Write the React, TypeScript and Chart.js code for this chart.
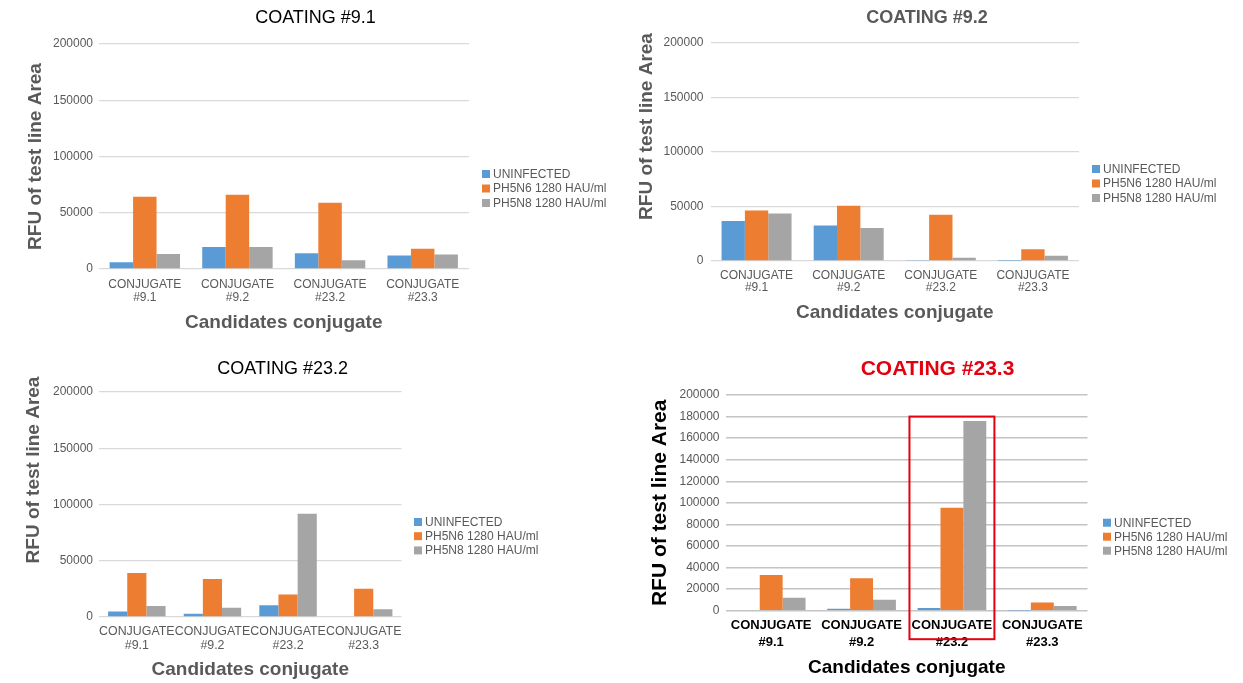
import React, { useEffect, useRef } from 'react';
import { Chart, registerables } from 'chart.js';

Chart.register(...registerables);

const FONT = "'Liberation Sans', Arial, Helvetica, sans-serif";

// ---------- data ----------
const categories: string[][] = [
  ['CONJUGATE', '#9.1'],
  ['CONJUGATE', '#9.2'],
  ['CONJUGATE', '#23.2'],
  ['CONJUGATE', '#23.3'],
];
const seriesLabels = ['UNINFECTED', 'PH5N6 1280 HAU/ml', 'PH5N8 1280 HAU/ml'];
const seriesColors = ['#5B9BD5', '#ED7D31', '#A5A5A5'];

const yTitleText = 'RFU of test line Area';
const xTitleText = 'Candidates conjugate';

const yTicksCoarse = [0, 50000, 100000, 150000, 200000];
const yTicksFine = [0, 20000, 40000, 60000, 80000, 100000, 120000, 140000, 160000, 180000, 200000];

const coating91Uninfected = [5900, 19600, 14000, 12100];
const coating91H5N6 = [64300, 66000, 58800, 17900];
const coating91H5N8 = [13400, 19600, 7700, 12800];

const coating92Uninfected = [36600, 32600, 1000, 300];
const coating92H5N6 = [46300, 50600, 42400, 10700];
const coating92H5N8 = [43600, 30200, 3000, 4900];

const coating232Uninfected = [5000, 3000, 10400, 0];
const coating232H5N6 = [39200, 33800, 19900, 25200];
const coating232H5N8 = [9800, 8300, 91700, 6800];

const coating233Uninfected = [600, 1800, 2500, 300];
const coating233H5N6 = [33100, 30000, 95500, 7700];
const coating233H5N8 = [12000, 10200, 175900, 4300];

const highlightedCategory = 2;
const highlightTopValue = 180000;

// ---------- layout / style specs ----------
type Spec = {
  key: string;
  title: string;
  titleFont: string;
  titleColor: string;
  titleX: number;
  titleY: number;
  series: number[][];
  yTicks: number[];
  left: number;
  top: number;
  width: number;
  height: number;
  area: { left: number; right: number; top: number; bottom: number };
  yTickPad: number;
  yTitleX: number;
  yTitleDy: number;
  yTitleFont: string;
  axisTitleColor: string;
  xTitleSize: number;
  xTitlePadBottom: number;
  xTickSize: number;
  xTickWeight: string;
  xTickColor: string;
  xTickLineHeight: number;
  xTickPad: number;
  gridColor: string;
  gridWidth: number;
  legendX: number;
  legendY: number;
  legendRow: number;
  highlight: boolean;
};

const specs: Spec[] = [
  {
    key: 'c91',
    title: 'COATING #9.1',
    titleFont: `18px ${FONT}`,
    titleColor: '#000000',
    titleX: 315.5,
    titleY: 18,
    series: [coating91Uninfected, coating91H5N6, coating91H5N8],
    yTicks: yTicksCoarse,
    left: 0, top: 0, width: 620, height: 340,
    area: { left: 98.5, right: 469, top: 44, bottom: 269 },
    yTickPad: 5.5,
    yTitleX: 35.5,
    yTitleDy: 0,
    yTitleFont: `bold 19px ${FONT}`,
    axisTitleColor: '#595959',
    xTitleSize: 19,
    xTitlePadBottom: 5.6,
    xTickSize: 12,
    xTickWeight: 'normal',
    xTickColor: '#595959',
    xTickLineHeight: 1.08,
    xTickPad: 9,
    gridColor: '#D9D9D9',
    gridWidth: 1.3,
    legendX: 482,
    legendY: 174,
    legendRow: 14.5,
    highlight: false,
  },
  {
    key: 'c92',
    title: 'COATING #9.2',
    titleFont: `bold 18px ${FONT}`,
    titleColor: '#595959',
    titleX: 307,
    titleY: 18,
    series: [coating92Uninfected, coating92H5N6, coating92H5N8],
    yTicks: yTicksCoarse,
    left: 620, top: 0, width: 623, height: 340,
    area: { left: 90.5, right: 459, top: 43, bottom: 261 },
    yTickPad: 7,
    yTitleX: 27,
    yTitleDy: -25.5,
    yTitleFont: `bold 19px ${FONT}`,
    axisTitleColor: '#595959',
    xTitleSize: 19,
    xTitlePadBottom: 15.6,
    xTickSize: 12,
    xTickWeight: 'normal',
    xTickColor: '#595959',
    xTickLineHeight: 1.05,
    xTickPad: 8,
    gridColor: '#D9D9D9',
    gridWidth: 1.3,
    legendX: 472,
    legendY: 169,
    legendRow: 14.5,
    highlight: false,
  },
  {
    key: 'c232',
    title: 'COATING #23.2',
    titleFont: `18px ${FONT}`,
    titleColor: '#000000',
    titleX: 282.7,
    titleY: 29,
    series: [coating232Uninfected, coating232H5N6, coating232H5N8],
    yTicks: yTicksCoarse,
    left: 0, top: 340, width: 620, height: 343,
    area: { left: 99, right: 401.5, top: 52, bottom: 277 },
    yTickPad: 6,
    yTitleX: 33.5,
    yTitleDy: -34.5,
    yTitleFont: `bold 19px ${FONT}`,
    axisTitleColor: '#595959',
    xTitleSize: 19,
    xTitlePadBottom: 1.6,
    xTickSize: 12.4,
    xTickWeight: 'normal',
    xTickColor: '#595959',
    xTickLineHeight: 1.12,
    xTickPad: 8,
    gridColor: '#D9D9D9',
    gridWidth: 1.3,
    legendX: 414,
    legendY: 182,
    legendRow: 14.2,
    highlight: false,
  },
  {
    key: 'c233',
    title: 'COATING #23.3',
    titleFont: `bold 21px ${FONT}`,
    titleColor: '#E3000F',
    titleX: 317.5,
    titleY: 29,
    series: [coating233Uninfected, coating233H5N6, coating233H5N8],
    yTicks: yTicksFine,
    left: 620, top: 340, width: 623, height: 343,
    area: { left: 106, right: 467.5, top: 55, bottom: 270.7 },
    yTickPad: 6.5,
    yTitleX: 40,
    yTitleDy: 0,
    yTitleFont: `bold 21px ${FONT}`,
    axisTitleColor: '#000000',
    xTitleSize: 19,
    xTitlePadBottom: 3.6,
    xTickSize: 13,
    xTickWeight: 'bold',
    xTickColor: '#000000',
    xTickLineHeight: 1.3,
    xTickPad: 6.3,
    gridColor: '#C4C4C4',
    gridWidth: 1.5,
    legendX: 483,
    legendY: 182.7,
    legendRow: 14,
    highlight: true,
  },
];

// ---------- plugin for title, y title, legend and highlight box ----------
const decorPlugin = {
  id: 'decor',
  afterDraw(chart: any) {
    const spec: Spec = chart.$spec;
    if (!spec) return;
    const ctx: CanvasRenderingContext2D = chart.ctx;
    const area = chart.chartArea;
    ctx.save();

    // chart title
    ctx.font = spec.titleFont;
    ctx.fillStyle = spec.titleColor;
    ctx.textAlign = 'center';
    ctx.textBaseline = 'middle';
    ctx.fillText(spec.title, spec.titleX, spec.titleY);

    // y axis title
    ctx.save();
    ctx.translate(spec.yTitleX, (area.top + area.bottom) / 2 + spec.yTitleDy);
    ctx.rotate(-Math.PI / 2);
    ctx.font = spec.yTitleFont;
    ctx.fillStyle = spec.axisTitleColor;
    ctx.textAlign = 'center';
    ctx.textBaseline = 'middle';
    ctx.fillText(yTitleText, 0, 0);
    ctx.restore();

    // legend
    chart.data.datasets.forEach((ds: any, i: number) => {
      const y = spec.legendY + i * spec.legendRow;
      ctx.fillStyle = ds.backgroundColor;
      ctx.fillRect(spec.legendX, y - 4, 8, 8);
      ctx.fillStyle = '#595959';
      ctx.font = `12px ${FONT}`;
      ctx.textAlign = 'left';
      ctx.textBaseline = 'middle';
      ctx.fillText(ds.label, spec.legendX + 11, y + 0.5);
    });

    // highlight rectangle
    if (spec.highlight) {
      const xs = chart.scales.x;
      const ys = chart.scales.y;
      const catW = (xs.right - xs.left) / categories.length;
      const cx = xs.getPixelForValue(highlightedCategory);
      const top = ys.getPixelForValue(highlightTopValue);
      const bottom = area.bottom + 28.5;
      ctx.strokeStyle = '#E3000F';
      ctx.lineWidth = 2;
      ctx.strokeRect(cx - catW * 0.47, top, catW * 0.94, bottom - top);
    }
    ctx.restore();
  },
};

function ChartBox({ spec }: { spec: Spec }) {
  const ref = useRef<HTMLCanvasElement | null>(null);

  useEffect(() => {
    if (!ref.current) return;
    const chart = new Chart(ref.current, {
      type: 'bar',
      data: {
        labels: categories,
        datasets: spec.series.map((values, i) => ({
          label: seriesLabels[i],
          data: values,
          backgroundColor: seriesColors[i],
          borderWidth: 0,
          categoryPercentage: 0.76,
          barPercentage: 1.0,
        })),
      },
      options: {
        responsive: false,
        animation: false,
        devicePixelRatio: 1,
        layout: {
          padding: {
            left: 0,
            top: spec.area.top,
            right: spec.width - spec.area.right,
            bottom: 0,
          },
        },
        plugins: {
          legend: { display: false },
          title: { display: false },
          tooltip: { enabled: false },
        },
        scales: {
          x: {
            grid: { display: false, drawTicks: false },
            border: { display: false },
            ticks: {
              autoSkip: false,
              maxRotation: 0,
              minRotation: 0,
              padding: spec.xTickPad,
              color: spec.xTickColor,
              font: {
                family: FONT,
                size: spec.xTickSize,
                weight: spec.xTickWeight as any,
                lineHeight: spec.xTickLineHeight,
              },
            },
            title: {
              display: true,
              text: xTitleText,
              color: spec.axisTitleColor,
              font: { family: FONT, size: spec.xTitleSize, weight: 'bold', lineHeight: 1.2 },
              padding: { top: 0, bottom: spec.xTitlePadBottom },
            },
            afterFit: (scale: any) => {
              scale.height = spec.height - spec.area.bottom;
            },
          },
          y: {
            min: 0,
            max: 200000,
            grid: { color: spec.gridColor, lineWidth: spec.gridWidth, drawTicks: false },
            border: { display: false },
            ticks: {
              padding: spec.yTickPad,
              color: '#595959',
              font: { family: FONT, size: 12 },
              callback: (v: any) => String(v),
            },
            afterBuildTicks: (scale: any) => {
              scale.ticks = spec.yTicks.map((v) => ({ value: v }));
            },
            afterFit: (scale: any) => {
              scale.width = spec.area.left;
            },
          },
        },
      } as any,
      plugins: [decorPlugin as any],
    });
    (chart as any).$spec = spec;
    chart.draw();
    return () => chart.destroy();
  }, [spec]);

  return (
    <canvas
      ref={ref}
      width={spec.width}
      height={spec.height}
      style={{ position: 'absolute', left: spec.left, top: spec.top, width: spec.width, height: spec.height }}
    />
  );
}

export default function App() {
  return (
    <div style={{ position: 'absolute', left: 0, top: 0, width: 1243, height: 683, background: '#ffffff', overflow: 'hidden' }}>
      {specs.map((s) => (
        <ChartBox key={s.key} spec={s} />
      ))}
    </div>
  );
}
